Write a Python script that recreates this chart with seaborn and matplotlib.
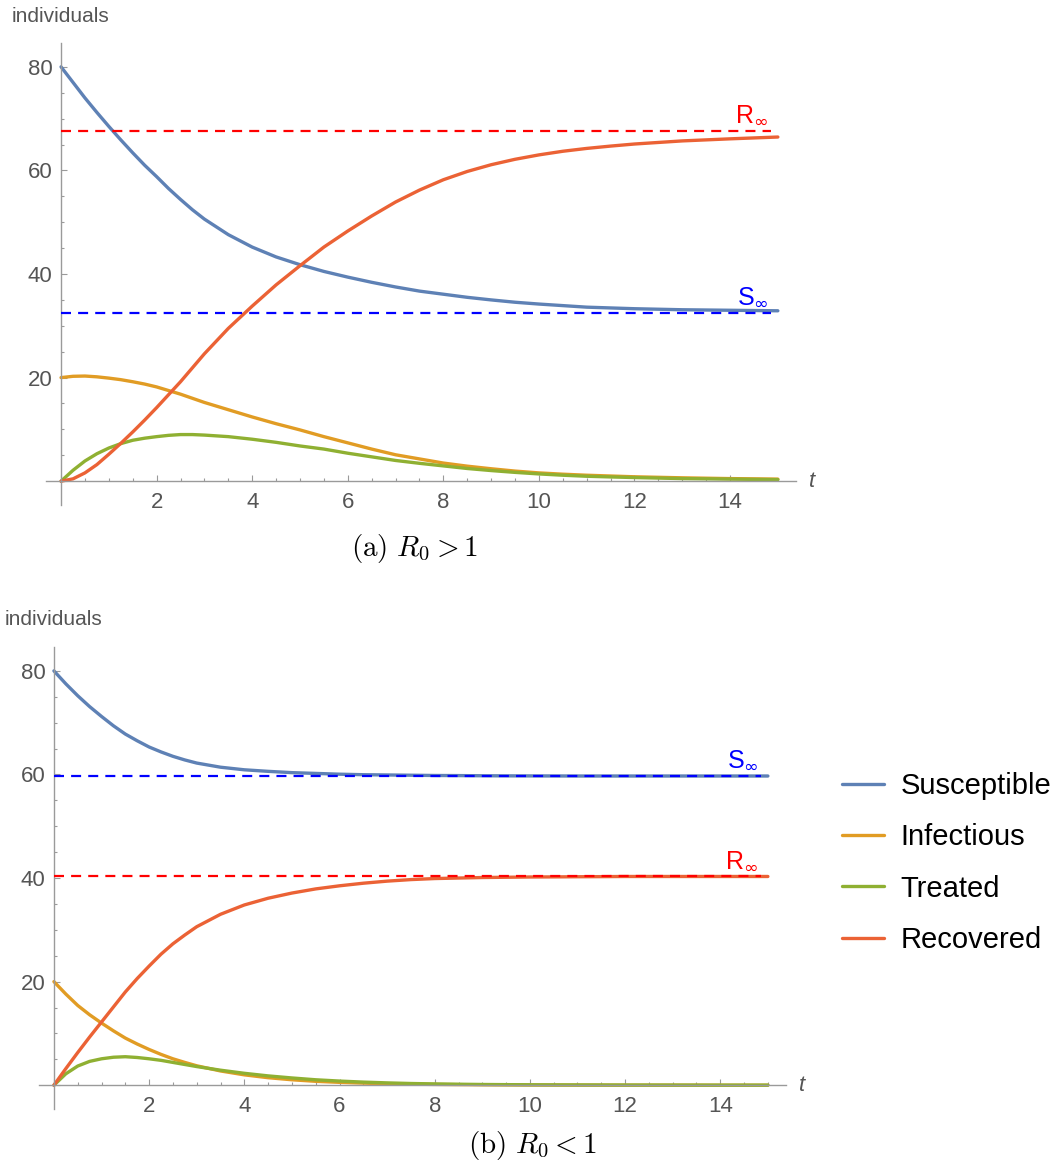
import matplotlib
matplotlib.use("Agg")
import numpy as np
import pandas as pd
import matplotlib.pyplot as plt
import seaborn as sns
from matplotlib.lines import Line2D
from matplotlib.ticker import MultipleLocator, FuncFormatter

# time points (same for both panels)
t = [0, 0.25, 0.5, 0.75, 1, 1.25, 1.5, 1.75, 2, 2.25, 2.5, 2.75, 3,
     3.5, 4, 4.5, 5, 5.5, 6, 6.5, 7, 7.5, 8, 8.5, 9, 9.5, 10, 10.5,
     11, 11.5, 12, 13, 14, 15]

# (a) R0 > 1
S_a = [80, 77.0, 74.0, 71.2, 68.5, 65.9, 63.4, 61.0, 58.8, 56.5, 54.4, 52.4, 50.6,
       47.6, 45.2, 43.3, 41.8, 40.5, 39.4, 38.4, 37.5, 36.7, 36.1, 35.5, 35.0,
       34.55, 34.2, 33.9, 33.6, 33.45, 33.3, 33.1, 33.0, 32.9]
I_a = [20.0, 20.25, 20.3, 20.15, 19.9, 19.6, 19.2, 18.75, 18.2, 17.5, 16.8, 16.0, 15.2,
       13.8, 12.4, 11.1, 9.9, 8.6, 7.4, 6.2, 5.1, 4.3, 3.5, 2.9, 2.4,
       1.95, 1.6, 1.35, 1.15, 1.0, 0.85, 0.65, 0.5, 0.4]
T_a = [0, 2.1, 3.9, 5.3, 6.4, 7.25, 7.9, 8.3, 8.6, 8.85, 9.0, 9.0, 8.9,
       8.6, 8.1, 7.5, 6.8, 6.2, 5.4, 4.7, 4.0, 3.45, 2.95, 2.45, 2.05,
       1.7, 1.4, 1.15, 0.95, 0.82, 0.7, 0.5, 0.4, 0.3]
R_a = [0, 0.45, 1.6, 3.2, 5.2, 7.3, 9.5, 11.8, 14.2, 16.7, 19.2, 21.9, 24.6,
       29.5, 33.8, 37.9, 41.6, 45.2, 48.3, 51.2, 53.9, 56.2, 58.2, 59.8, 61.1,
       62.15, 63.0, 63.7, 64.25, 64.7, 65.1, 65.7, 66.1, 66.45]
S_inf_a = 32.5
R_inf_a = 67.6

# (b) R0 < 1
S_b = [80, 77.5, 75.2, 73.1, 71.2, 69.4, 67.8, 66.5, 65.3, 64.35, 63.5, 62.8, 62.2,
       61.4, 60.9, 60.6, 60.35, 60.2, 60.05, 59.95, 59.9, 59.85, 59.8, 59.78, 59.75,
       59.73, 59.72, 59.71, 59.7, 59.7, 59.7, 59.7, 59.7, 59.7]
I_b = [20, 17.6, 15.4, 13.6, 12.0, 10.5, 9.1, 7.95, 6.9, 5.95, 5.1, 4.4, 3.75,
       2.75, 2.0, 1.45, 1.05, 0.75, 0.55, 0.4, 0.28, 0.2, 0.15, 0.11, 0.08,
       0.06, 0.04, 0.03, 0.02, 0.015, 0.01, 0.01, 0, 0]
T_b = [0, 2.2, 3.7, 4.6, 5.1, 5.4, 5.5, 5.35, 5.1, 4.8, 4.4, 4.0, 3.6,
       2.9, 2.3, 1.8, 1.4, 1.05, 0.8, 0.6, 0.45, 0.33, 0.25, 0.19, 0.14,
       0.11, 0.08, 0.06, 0.05, 0.04, 0.03, 0.02, 0.01, 0.01]
R_b = [0, 3.2, 6.3, 9.3, 12.2, 15.1, 18.0, 20.6, 23.0, 25.3, 27.3, 29.0, 30.6,
       33.0, 34.8, 36.1, 37.1, 37.9, 38.5, 39.0, 39.4, 39.7, 39.9, 40.0, 40.1,
       40.15, 40.2, 40.22, 40.25, 40.27, 40.3, 40.3, 40.3, 40.3]
S_inf_b = 59.7
R_inf_b = 40.3

names = ["Susceptible", "Infectious", "Treated", "Recovered"]
colors = ["#5E81B5", "#E19C24", "#8FB032", "#EB6235"]
palette = dict(zip(names, colors))
dash_end = 14.85

sns.set_style("white")
plt.rcParams["font.family"] = ["Liberation Sans", "DejaVu Sans"]

fig = plt.figure(figsize=(10.56, 11.69), dpi=100)
ax_a = fig.add_axes([0.0436, 0.568, 0.7102, 0.3952])
ax_b = fig.add_axes([0.0369, 0.0513, 0.7074, 0.3952])

axis_gray = "#9a9a9a"
label_gray = "#555555"


def panel(ax, S, I, T, R, s_inf, r_inf, s_lab_y, r_lab_y):
    df = pd.DataFrame({"t": t, "Susceptible": S, "Infectious": I,
                       "Treated": T, "Recovered": R})
    df = df.melt("t", var_name="compartment", value_name="individuals")
    sns.lineplot(data=df, x="t", y="individuals", hue="compartment",
                 hue_order=names, palette=palette, linewidth=2.4,
                 estimator=None, legend=False, ax=ax)
    for ln in ax.lines:
        ln.set_solid_joinstyle("round")
    ax.hlines(r_inf, t[0], dash_end, colors="#ff0000", lw=1.6,
              linestyles=(0, (4.5, 3.2)), zorder=4)
    ax.hlines(s_inf, t[0], dash_end, colors="#0000ff", lw=1.6,
              linestyles=(0, (4.5, 3.2)), zorder=4)
    ax.text(dash_end - 0.05, s_lab_y, r"S$_\infty$", color="#0000ff",
            fontsize=18, ha="right", va="bottom", math_fontfamily="dejavusans")
    ax.text(dash_end - 0.05, r_lab_y, r"R$_\infty$", color="#ff0000",
            fontsize=18, ha="right", va="bottom", math_fontfamily="dejavusans")

    ax.set_xlim(-0.314, 15.38)
    ax.set_ylim(-4.6, 84.6)
    ax.set_xlabel("")
    ax.set_ylabel("")
    for side in ["top", "right"]:
        ax.spines[side].set_visible(False)
    ax.spines["left"].set_position(("data", 0))
    ax.spines["bottom"].set_position(("data", 0))
    for side in ["left", "bottom"]:
        ax.spines[side].set_color(axis_gray)
        ax.spines[side].set_linewidth(1.0)
    ax.xaxis.set_major_locator(MultipleLocator(2))
    ax.xaxis.set_minor_locator(MultipleLocator(0.5))
    ax.yaxis.set_major_locator(MultipleLocator(20))
    ax.yaxis.set_minor_locator(MultipleLocator(5))
    fmt = FuncFormatter(lambda v, p: "" if abs(v) < 1e-9 else f"{v:g}")
    ax.xaxis.set_major_formatter(fmt)
    ax.yaxis.set_major_formatter(fmt)
    ax.tick_params(which="both", direction="in", color=axis_gray, width=0.8,
                   bottom=True, left=True, labelsize=16,
                   labelcolor=label_gray)
    ax.tick_params(which="major", length=4.5)
    ax.tick_params(which="minor", length=2.5)
    ax.tick_params(axis="x", pad=8)
    ax.tick_params(axis="y", pad=6)
    ax.text(15.71, 0, "t", style="italic", color=label_gray, fontsize=16,
            ha="center", va="center", clip_on=False)


panel(ax_a, S_a, I_a, T_a, R_a, S_inf_a, R_inf_a, 33.3, 68.4)
panel(ax_b, S_b, I_b, T_b, R_b, S_inf_b, R_inf_b, 60.5, 41.1)

fig.text(12 / 1056, 1 - 17 / 1169, "individuals", color=label_gray,
         fontsize=15, ha="left", va="center")
fig.text(5 / 1056, 1 - 620 / 1169, "individuals", color=label_gray,
         fontsize=15, ha="left", va="center")

fig.text(415 / 1056, 1 - 548 / 1169, r"$\mathrm{(a)}\ R_0 > 1$",
         fontsize=21, ha="center", va="center", math_fontfamily="cm",
         color="black")
fig.text(532 / 1056, 1 - 1145 / 1169, r"$\mathrm{(b)}\ R_0 < 1$",
         fontsize=21, ha="center", va="center", math_fontfamily="cm",
         color="black")

handles = [Line2D([], [], color=c, lw=2.4) for c in colors]
fig.legend(handles, names, loc="center left",
           bbox_to_anchor=(842 / 1056, 1 - 863 / 1169), frameon=False,
           fontsize=21, handlelength=1.45, handletextpad=0.55,
           labelspacing=0.8, borderpad=0, borderaxespad=0,
           labelcolor="black")

fig.savefig("out.png", dpi=100)
